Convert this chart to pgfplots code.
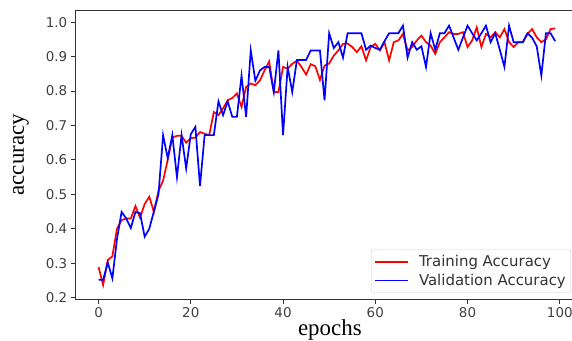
\documentclass[border=0pt]{standalone}
\usepackage{pgfplots}
\pgfplotsset{compat=1.18}
\usepackage{fontspec}
\setmainfont{Liberation Serif}
\newfontfamily\dejavu{DejaVu Sans}
\definecolor{mplred}{RGB}{255,0,0}
\definecolor{mplblue}{RGB}{0,0,255}
\begin{document}
\begin{tikzpicture}
\begin{axis}[
  at={(75.7bp,42bp)}, anchor=south west,
  scale only axis, width=502.3bp, height=288.5bp,
  xmin=-4.95, xmax=103.95, ymin=0.196, ymax=1.034,
  xtick={0,20,40,60,80,100},
  ytick={0.2,0.3,0.4,0.5,0.6,0.7,0.8,0.9,1.0},
  tick pos=left, tick align=outside, major tick length=5bp,
  axis line style={black!80, line width=0.9bp},
  every tick/.style={black!80, line width=0.9bp},
  /pgf/number format/assume math mode=true,
  tick label style={font=\dejavu\fontsize{13.5}{16}\selectfont, text=black!75},
  yticklabel style={/pgf/number format/.cd, fixed, fixed zerofill, precision=1},
  xlabel={epochs}, ylabel={accuracy},
  every axis x label/.style={at={(axis description cs:0.506,-0.106)}, anchor=center, font=\fontsize{23}{26}\selectfont},
  every axis y label/.style={at={(axis description cs:-0.109,0.5)}, rotate=90, anchor=center, font=\fontsize{23}{26}\selectfont},
  legend style={at={(0.986,0.022)}, anchor=south east, draw=black!20, rounded corners=2bp,
    font=\dejavu\fontsize{15}{17}\selectfont, text=black!80, inner xsep=3bp, inner ysep=3.5bp,
    row sep=2bp, cells={anchor=west}},
  legend image code/.code={\draw[#1, line width=1.8bp] (0bp,0bp) -- (33bp,0bp); \path (41bp,0bp);},
]
\addplot[mplred, line width=1.7bp] coordinates {
(0,0.289)(1,0.237)(2,0.309)(3,0.32)(4,0.40)(5,0.425)(6,0.43)(7,0.43)(8,0.466)(9,0.432)
(10,0.472)(11,0.493)(12,0.449)(13,0.51)(14,0.54)(15,0.60)(16,0.665)(17,0.67)(18,0.67)(19,0.65)
(20,0.663)(21,0.665)(22,0.681)(23,0.676)(24,0.672)(25,0.739)(26,0.73)(27,0.75)(28,0.773)(29,0.78)
(30,0.793)(31,0.754)(32,0.812)(33,0.822)(34,0.817)(35,0.831)(36,0.86)(37,0.886)(38,0.797)(39,0.797)
(40,0.87)(41,0.865)(42,0.879)(43,0.888)(44,0.87)(45,0.848)(46,0.878)(47,0.872)(48,0.832)(49,0.874)
(50,0.88)(51,0.903)(52,0.918)(53,0.937)(54,0.938)(55,0.928)(56,0.913)(57,0.93)(58,0.889)(59,0.928)
(60,0.937)(61,0.918)(62,0.942)(63,0.889)(64,0.942)(65,0.947)(66,0.966)(67,0.918)(68,0.928)(69,0.947)
(70,0.961)(71,0.942)(72,0.932)(73,0.908)(74,0.942)(75,0.956)(76,0.971)(77,0.966)(78,0.966)(79,0.971)
(80,0.928)(81,0.947)(82,0.985)(83,0.928)(84,0.966)(85,0.956)(86,0.971)(87,0.956)(88,0.98)(89,0.942)
(90,0.928)(91,0.942)(92,0.942)(93,0.966)(94,0.98)(95,0.956)(96,0.942)(97,0.95)(98,0.98)(99,0.982)
};
\addlegendentry{Training Accuracy}
\addplot[mplblue, line width=1.7bp] coordinates {
(0,0.252)(1,0.252)(2,0.302)(3,0.256)(4,0.37)(5,0.449)(6,0.43)(7,0.402)(8,0.449)(9,0.445)
(10,0.377)(11,0.40)(12,0.45)(13,0.50)(14,0.672)(15,0.605)(16,0.672)(17,0.55)(18,0.672)(19,0.575)
(20,0.675)(21,0.696)(22,0.524)(23,0.672)(24,0.672)(25,0.672)(26,0.77)(27,0.73)(28,0.77)(29,0.725)
(30,0.725)(31,0.845)(32,0.725)(33,0.918)(34,0.83)(35,0.86)(36,0.87)(37,0.87)(38,0.797)(39,0.918)
(40,0.672)(41,0.87)(42,0.797)(43,0.89)(44,0.89)(45,0.89)(46,0.918)(47,0.918)(48,0.918)(49,0.773)
(50,0.968)(51,0.925)(52,0.942)(53,0.897)(54,0.968)(55,0.968)(56,0.968)(57,0.968)(58,0.92)(59,0.932)
(60,0.925)(61,0.92)(62,0.945)(63,0.968)(64,0.968)(65,0.968)(66,0.99)(67,0.897)(68,0.942)(69,0.92)
(70,0.93)(71,0.87)(72,0.968)(73,0.92)(74,0.968)(75,0.968)(76,0.99)(77,0.955)(78,0.92)(79,0.955)
(80,0.99)(81,0.968)(82,0.947)(83,0.968)(84,0.99)(85,0.942)(86,0.968)(87,0.92)(88,0.87)(89,0.99)
(90,0.942)(91,0.942)(92,0.942)(93,0.968)(94,0.955)(95,0.93)(96,0.845)(97,0.968)(98,0.968)(99,0.945)
};
\addlegendentry{Validation Accuracy}
\end{axis}
\pgfresetboundingbox
\path[use as bounding box] (0,0) rectangle (572bp,341bp);
\end{tikzpicture}
\end{document}
